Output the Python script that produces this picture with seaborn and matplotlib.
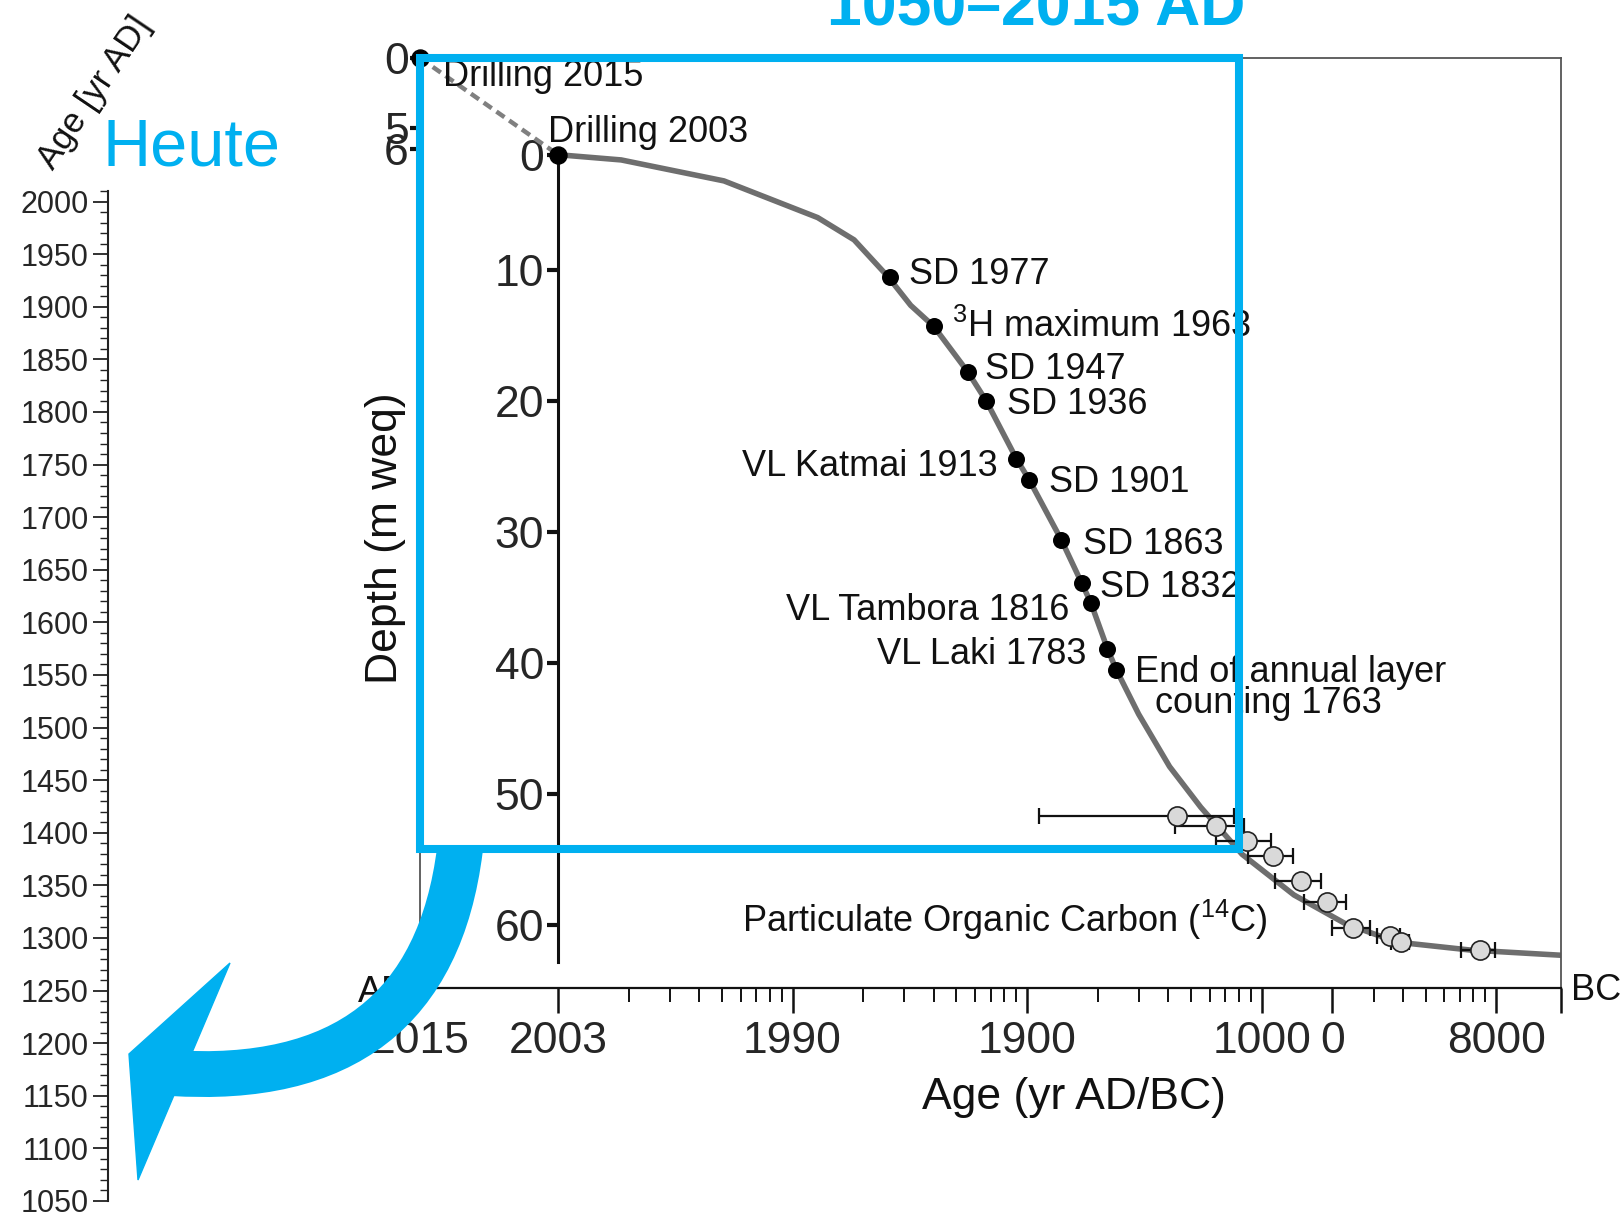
import numpy as np
import matplotlib
matplotlib.use("Agg")
import matplotlib.pyplot as plt
import seaborn as sns
from matplotlib.patches import Rectangle, PathPatch, Polygon
from matplotlib.path import Path
from matplotlib.ticker import FixedLocator, NullFormatter, MultipleLocator

sns.set_theme(style="white")
plt.rcParams['font.family'] = ['Liberation Sans', 'DejaVu Sans']
plt.rcParams['mathtext.fontset'] = 'custom'
plt.rcParams['mathtext.rm'] = 'Liberation Sans'

W, H = 1623, 1215
BLUE = '#00b0f0'
GREY = '#6e6e6e'

# x = years before 2003 (the 2003 surface sits at 1 on the log axis),
# y = depth in m weq below the 2003 surface
curve_age = [1, 1.86, 5.1, 12.8, 18.3, 25.5, 31.9, 40, 56, 67, 90, 102, 140, 171, 187,
             220, 240, 299, 405, 550, 826, 1374, 2280, 3785, 7727, 18900]
curve_depth = [1.2, 1.6, 3.2, 6.0, 7.7, 10.5, 12.7, 14.3, 17.8, 20.0, 24.4, 26.0, 30.6,
               33.9, 35.4, 38.9, 40.5, 43.9, 47.9, 51.0, 54.6, 57.7, 59.9, 61.3, 61.9, 62.3]

event_year = [1977, 1963, 1947, 1936, 1913, 1901, 1863, 1832, 1816, 1783, 1763]
event_depth = [10.5, 14.3, 17.8, 20.0, 24.4, 26.0, 30.6, 33.9, 35.4, 38.9, 40.5]
event_label = ['SD 1977', r'$\mathregular{^3}$H maximum 1963', 'SD 1947', 'SD 1936',
               'VL Katmai 1913', 'SD 1901', 'SD 1863', 'SD 1832', 'VL Tambora 1816',
               'VL Laki 1783', 'End of annual layer\n  counting 1763']
# label placement: (ha, dx px, dy px)
event_place = [('left', 19, 2), ('left', 18, -1), ('left', 17, 3), ('left', 21, -3),
               ('right', -19, -8), ('left', 20, -3), ('left', 22, -5), ('left', 18, -4),
               ('right', -21, -8), ('right', -21, -6), ('left', 19, -18)]

# 14C dated samples (particulate organic carbon)
c14_age = [436, 640, 867, 1120, 1473, 1901, 2456, 3532, 3933, 8547]
c14_lo = [112, 428, 640, 876, 1142, 1518, 1999, 3110, 3565, 7096]
c14_hi = [764, 842, 1097, 1362, 1795, 2291, 2903, 3896, 4256, 9908]
c14_depth = [51.7, 52.4, 53.6, 54.7, 56.6, 58.2, 60.2, 60.8, 61.3, 61.9]

# drilling surfaces: 2015 sits on the broken left end of the age axis
X_2015 = 0.258
drill_age = [X_2015, 1]
drill_depth = [-6.18, 1.2]

# age axis ticks
xtick_pos = [X_2015, 1, 10, 100, 1000, 2003, 10000, 18900]
xtick_lab = ['2015', '2003', '1990', '1900', '1000', '0', '8000', '']
# depth ticks below the 2015 surface (outer) and the 2003 surface (inner)
outer_pos = [-6.18, -0.84, 0.76]
outer_lab = ['0', '5', '6']
inner_pos = [1.2, 10, 20, 30, 40, 50, 60]
inner_lab = ['0', '10', '20', '30', '40', '50', '60']

# left calendar axis
cal_min, cal_max = 1050, 2010


def fbox(x0, y0, x1, y1):
    return [x0 / W, 1 - y1 / H, (x1 - x0) / W, (y1 - y0) / H]


def fpt(x, y):
    # figure pixel (from top-left) -> figure fraction
    return (x / W, 1 - y / H)


fig = plt.figure(figsize=(W / 100, H / 100), dpi=100)
fig.patch.set_facecolor('white')

ax = fig.add_axes(fbox(420, 58, 1561, 988))
ax.set_facecolor('none')
ax.set_xscale('log')
xlo, xhi = X_2015, 18900
ax.set_xlim(xlo, xhi)
ax.set_ylim(64.8, -6.18)

sns.lineplot(x=curve_age, y=curve_depth, ax=ax, color=GREY, lw=4.0, zorder=2)
ax.plot(drill_age, drill_depth, ls=(0, (2.2, 1.3)), color='#808080', lw=3.2, zorder=2)

ax.errorbar(c14_age, c14_depth,
            xerr=[np.array(c14_age) - np.array(c14_lo), np.array(c14_hi) - np.array(c14_age)],
            fmt='none', ecolor='#111111', elinewidth=1.6, capsize=6, capthick=1.6, zorder=3)
sns.scatterplot(x=c14_age, y=c14_depth, ax=ax, s=190, color='#d9d9d9',
                edgecolor='#222222', linewidth=1.2, zorder=4)

event_age = [2003 - y for y in event_year]
sns.scatterplot(x=event_age, y=event_depth, ax=ax, s=150, color='black',
                edgecolor='black', linewidth=0, zorder=5)
ax.scatter(drill_age, drill_depth, s=150, color='black', zorder=5, clip_on=False)

for a, d, lab, (ha, dx, dy) in zip(event_age, event_depth, event_label, event_place):
    ax.annotate(lab, (a, d), xytext=(dx, dy), textcoords='offset pixels',
                ha=ha, va='center', fontsize=26, color='#111111',
                linespacing=0.85, zorder=6)

ax.annotate('Drilling 2015', (drill_age[0], drill_depth[0]), xytext=(23, -19),
            textcoords='offset pixels', ha='left', va='center', fontsize=26, color='#111111')
ax.annotate('Drilling 2003', (drill_age[1], drill_depth[1]), xytext=(-10, 22),
            textcoords='offset pixels', ha='left', va='center', fontsize=26, color='#111111')
ax.text(0.282, 0.073, r'Particulate Organic Carbon ($\mathregular{^{14}}$C)',
        transform=ax.transAxes, ha='left', va='center', fontsize=26, color='#111111')

# spines
for s in ['top', 'right', 'left']:
    ax.spines[s].set_color('#555555')
    ax.spines[s].set_linewidth(1.3)
ax.spines['bottom'].set_color('#111111')
ax.spines['bottom'].set_linewidth(1.6)

# age axis
ax.xaxis.set_major_locator(FixedLocator(xtick_pos))
ax.set_xticklabels(xtick_lab)
minor = [k * 10 ** d for d in range(0, 4) for k in range(2, 10) if not (d == 3 and k == 2)]
ax.xaxis.set_minor_locator(FixedLocator(minor))
ax.xaxis.set_minor_formatter(NullFormatter())
ax.tick_params(axis='x', which='major', direction='out', length=18, width=1.8,
               color='#111111', labelsize=32, pad=6, bottom=True)
ax.tick_params(axis='x', which='minor', direction='out', length=10, width=1.4,
               color='#111111', bottom=True)
ax.xaxis.get_major_ticks()[0].tick1line.set_visible(False)

# outer depth axis (below 2015 surface)
ax.set_yticks(outer_pos)
ax.set_yticklabels(outer_lab)
ax.tick_params(axis='y', direction='out', length=7, width=3, color='#111111',
               labelsize=32, pad=1, left=True)
ax.set_xlabel('')
ax.set_ylabel('')

# inner depth axis (below 2003 surface), placed at the 2003 position
frac = (np.log10(1) - np.log10(xlo)) / (np.log10(xhi) - np.log10(xlo))
sec = ax.secondary_yaxis(frac)
sec.set_yticks(inner_pos)
sec.set_yticklabels(inner_lab)
sec.tick_params(axis='y', direction='out', length=8, width=3, color='#111111',
                labelsize=32, pad=2)
sec.spines['left'].set_bounds(1.2, 62.8)
sec.spines['left'].set_linewidth(2.2)
sec.spines['left'].set_color('#111111')

fig.text(385 / W, 1 - 538 / H, 'Depth (m weq)', rotation=90, ha='center', va='center',
         fontsize=32, color='#111111')
fig.text(1074 / W, 1 - 1097 / H, 'Age (yr AD/BC)', ha='center', va='center',
         fontsize=32, color='#111111')
fig.text(383 / W, 1 - 993 / H, 'AD', ha='center', va='center', fontsize=26, color='#111111')
fig.text(1571 / W, 1 - 991 / H, 'BC', ha='left', va='center', fontsize=26, color='#111111')

# blue frame marking 1050-2015 AD
rect = Rectangle((xlo, -6.18), 800 - xlo, 54.2 + 6.18, transform=ax.transData,
                 fill=False, ec=BLUE, lw=5.8, clip_on=False, zorder=10, joinstyle='miter')
ax.add_patch(rect)
fig.text(1036 / W, 1 - 26 / H, '1050\u20132015 AD', ha='center', va='baseline',
         fontsize=45, fontweight='bold', color=BLUE)

# left calendar age axis
axl = fig.add_axes([108 / W, 1 - 1201 / H, 0.0001, (1201 - 191) / H])
axl.set_ylim(cal_min, cal_max)
axl.set_xticks([])
for s in ['top', 'right', 'bottom']:
    axl.spines[s].set_visible(False)
axl.spines['left'].set_color('#222222')
axl.spines['left'].set_linewidth(1.5)
axl.spines['left'].set_bounds(cal_min, cal_max)
axl.yaxis.set_major_locator(MultipleLocator(50))
axl.yaxis.set_minor_locator(MultipleLocator(10))
axl.tick_params(axis='y', which='major', direction='out', length=11, width=1.3,
                color='#222222', labelsize=22, pad=3, left=True)
axl.tick_params(axis='y', which='minor', direction='out', length=6, width=1.0,
                color='#222222', left=True)
axl.set_ylim(cal_min, cal_max)

fig.text(95 / W, 1 - 93 / H, 'Age [yr AD]', rotation=56, ha='center', va='center',
         fontsize=25, color='#111111')
fig.text(103 / W, 1 - 148 / H, 'Heute', ha='left', va='center', fontsize=48, color=BLUE)

# curved arrow from the frame down to the calendar axis: thick Bezier shaft + head
shaft = PathPatch(Path([fpt(460, 849), fpt(430, 1090), fpt(170, 1073)],
                       [Path.MOVETO, Path.CURVE3, Path.CURVE3]),
                  transform=fig.transFigure, fill=False, ec=BLUE, lw=33,
                  capstyle='butt', zorder=20)
head = Polygon([fpt(230, 963), fpt(129, 1054), fpt(138, 1180)], closed=True,
               transform=fig.transFigure, fc=BLUE, ec=BLUE, lw=1, zorder=20)
fig.add_artist(shaft)
fig.add_artist(head)

fig.savefig('out.png', dpi=100, facecolor='white')
